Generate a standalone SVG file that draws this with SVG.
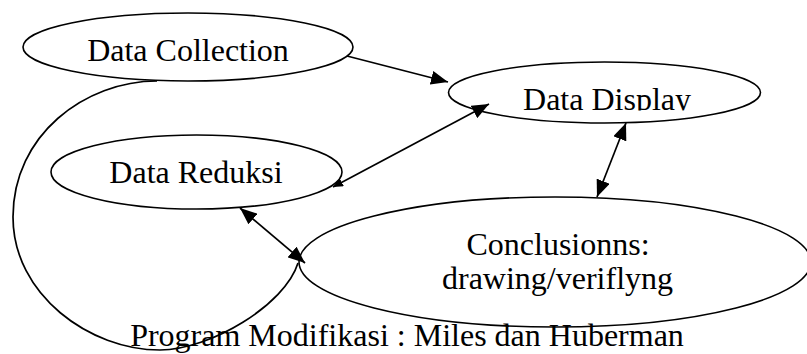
<svg xmlns="http://www.w3.org/2000/svg" width="807" height="354" viewBox="0 0 807 354">
<style>
.node{fill:#fff;stroke:#000;stroke-width:1.6}
.lbl{font-family:"Liberation Serif","Times New Roman",serif;font-size:32px;fill:#000;text-anchor:middle}
.con{fill:none;stroke:#000;stroke-width:1.7}
</style>
<defs>
<marker id="ah" viewBox="0 0 17 14" refX="17" refY="7" markerWidth="17" markerHeight="14" markerUnits="userSpaceOnUse" orient="auto-start-reverse">
<path d="M0,0 L17,7 L0,14 Z" fill="#000"/>
</marker>
<marker id="ahs" viewBox="0 0 10 9" refX="10" refY="4.5" markerWidth="10" markerHeight="9" markerUnits="userSpaceOnUse" orient="auto-start-reverse">
<path d="M0,0 L10,4.5 L0,9 Z" fill="#000"/>
</marker>
<clipPath id="dispClip"><rect x="440" y="60" width="330" height="50.5"/></clipPath>
</defs>
<rect width="807" height="354" fill="#fff"/>
<g id="n-collection">
<ellipse class="node" cx="188" cy="47" rx="165" ry="34"/>
<text class="lbl" x="188" y="61">Data Collection</text>
</g>
<g id="n-display">
<ellipse class="node" cx="604.5" cy="92.5" rx="156" ry="30.5"/>
<text class="lbl" x="607" y="110" clip-path="url(#dispClip)">Data Display</text>
</g>
<g id="n-reduksi">
<ellipse class="node" cx="196.5" cy="172" rx="145.5" ry="37"/>
<text class="lbl" x="196" y="183">Data Reduksi</text>
</g>
<g id="n-conclusions">
<ellipse class="node" cx="555" cy="262" rx="256" ry="65"/>
<text class="lbl" x="558" y="255">Conclusionns:</text>
<text class="lbl" x="557.5" y="289">drawing/veriflyng</text>
</g>
<g id="connectors">
<line class="con" x1="347" y1="56" x2="448" y2="82" marker-end="url(#ah)"/>
<line class="con" x1="333" y1="187" x2="489" y2="104" marker-start="url(#ahs)" marker-end="url(#ah)"/>
<line class="con" x1="626" y1="123" x2="597" y2="197" marker-start="url(#ah)" marker-end="url(#ah)"/>
<line class="con" x1="240" y1="208" x2="305" y2="263" marker-start="url(#ah)" marker-end="url(#ah)"/>
<path class="con" d="M157,81 C85,81 13,135 13,217 C13,295 90,350 160,350 C210,350 285,305 298,263"/>
</g>
<g id="caption">
<text class="lbl" x="407" y="346">Program Modifikasi : Miles dan Huberman</text>
</g>
</svg>
